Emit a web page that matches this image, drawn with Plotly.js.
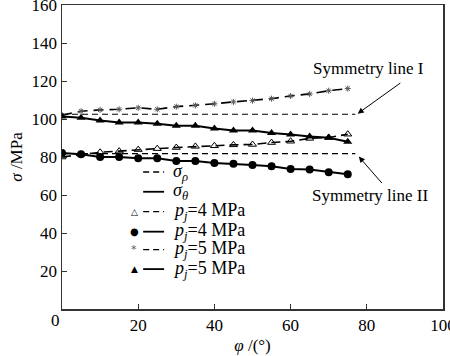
<!DOCTYPE html>
<html>
<head>
<meta charset="utf-8">
<script src="https://cdn.plot.ly/plotly-3.0.1.min.js"></script>
<style>html,body{margin:0;padding:0;background:#fff;}#chart{width:450px;height:356px;}</style>
</head>
<body>
<div id="chart"></div>
<script>
// angle phi (degrees)
var phi = [0, 5, 10, 15, 20, 25, 30, 35, 40, 45, 50, 55, 60, 65, 70, 75];
// sigma_rho, pj = 4 MPa (open triangles, dashed)
var rho4 = [80.0, 81.4, 82.5, 83.1, 83.9, 84.4, 85.0, 85.6, 85.9, 86.4, 86.6, 87.6, 88.3, 89.8, 90.3, 92.0];
// sigma_theta, pj = 4 MPa (filled circles, solid)
var theta4 = [82.1, 81.4, 80.0, 80.0, 79.3, 79.3, 77.9, 77.9, 76.9, 76.5, 75.8, 75.1, 73.7, 73.4, 72.0, 70.9];
// sigma_rho, pj = 5 MPa (asterisks, dashed)
var rho5 = [102.0, 104.1, 104.8, 105.1, 105.9, 105.1, 106.5, 107.2, 108.0, 109.0, 109.7, 110.7, 112.1, 113.2, 114.9, 116.0];
// sigma_theta, pj = 5 MPa (filled triangles, solid)
var theta5 = [101.3, 100.6, 99.2, 98.2, 98.2, 97.5, 96.4, 96.4, 95.0, 94.0, 94.0, 92.6, 91.9, 90.8, 90.1, 88.0];
// symmetry lines
var symX = [0, 77];
var symI = [102.5, 102.5];
var symII = [81.8, 81.8];
var xTicks = [0, 20, 40, 60, 80, 100];
var xTickText = ['', '20', '40', '60', '80', '100'];
var yTicks = [0, 20, 40, 60, 80, 100, 120, 140, 160];
var yTickText = ['', '20', '40', '60', '80', '100', '120', '140', '160'];

var FONT = 'Liberation Serif';

var traces = [
  {x: symX, y: symI, mode: 'lines', line: {color: '#000', width: 1.2, dash: '6px,4px'}, hoverinfo: 'skip'},
  {x: symX, y: symII, mode: 'lines', line: {color: '#000', width: 1.2, dash: '6px,4px'}, hoverinfo: 'skip'},
  {x: phi, y: rho4, mode: 'lines+markers', line: {color: '#000', width: 1.6, dash: '9px,5px'},
   marker: {symbol: 'triangle-up-open', size: 7, color: '#000', line: {width: 1, color: '#000'}}},
  {x: phi, y: theta4, mode: 'lines+markers', line: {color: '#000', width: 2},
   marker: {symbol: 'circle', size: 8, color: '#000'}},
  {x: phi, y: rho5, mode: 'lines+markers', line: {color: '#000', width: 1.6, dash: '10px,6px'},
   marker: {symbol: 'asterisk-open', size: 5, color: '#555', line: {width: 1, color: '#555'}}},
  {x: phi, y: theta5, mode: 'lines+markers', line: {color: '#000', width: 2},
   marker: {symbol: 'triangle-up', size: 8, color: '#000'}}
];

// custom legend (data coordinates for placement)
var legRows = [72.1, 61.7, 51.2, 40.7, 31.2, 21.0];
var legLabels = ['<i>σ</i><sub><i>ρ</i></sub>', '<i>σ</i><sub><i>θ</i></sub>',
  '<i>p</i><sub><i>j</i></sub>=4 MPa', '<i>p</i><sub><i>j</i></sub>=4 MPa',
  '<i>p</i><sub><i>j</i></sub>=5 MPa', '<i>p</i><sub><i>j</i></sub>=5 MPa'];
var legDash = ['6px,4px', 'solid', '6px,4px', 'solid', '6px,4px', 'solid'];
var legGlyph = ['', '', '△', '●', '*', '▲'];
var legGlyphSize = [10, 10, 9, 10, 11, 9];

var shapes = [];
var annotations = [];
for (var i = 0; i < legRows.length; i++) {
  shapes.push({type: 'line', xref: 'x', yref: 'y', x0: 21.3, x1: 26.8, y0: legRows[i], y1: legRows[i],
    line: {color: '#000', width: legDash[i] === 'solid' ? 1.8 : 1.3, dash: legDash[i]}});
  annotations.push({xref: 'x', yref: 'y', x: 28.6, y: legRows[i], xanchor: 'left', yanchor: 'middle',
    text: legLabels[i], showarrow: false, font: {family: FONT, size: 18, color: '#000'}});
  if (legGlyph[i]) {
    annotations.push({xref: 'x', yref: 'y', x: 18.9, y: legRows[i], xanchor: 'center', yanchor: 'middle',
      text: legGlyph[i], showarrow: false, font: {family: 'DejaVu Sans', size: legGlyphSize[i], color: legGlyph[i] === '*' ? '#555' : '#000'}});
  }
}
annotations.push({xref: 'x', yref: 'y', x: 80.5, y: 126.5, text: 'Symmetry line I', showarrow: false,
  font: {family: FONT, size: 17, color: '#000'}});
annotations.push({xref: 'x', yref: 'y', x: 80.8, y: 59.5, text: 'Symmetry line II', showarrow: false,
  font: {family: FONT, size: 17, color: '#000'}});
annotations.push({xref: 'x', yref: 'y', axref: 'x', ayref: 'y', x: 77.6, y: 102.8, ax: 89.2, ay: 119.5,
  text: '', showarrow: true, arrowhead: 2, arrowsize: 1.2, arrowwidth: 1, arrowcolor: '#000'});
annotations.push({xref: 'x', yref: 'y', axref: 'x', ayref: 'y', x: 77.9, y: 80.2, ax: 84.3, ay: 65.5,
  text: '', showarrow: true, arrowhead: 2, arrowsize: 1.2, arrowwidth: 1, arrowcolor: '#000'});
// shared origin label
annotations.push({xref: 'paper', yref: 'paper', x: 0, y: 0, xanchor: 'center', yanchor: 'middle',
  xshift: -7, yshift: -11, text: '0', showarrow: false, font: {family: FONT, size: 17, color: '#000'}});

var layout = {
  width: 450, height: 356,
  margin: {l: 62, r: 7, t: 5, b: 47, pad: 0},
  paper_bgcolor: '#fff', plot_bgcolor: '#fff',
  showlegend: false,
  font: {family: FONT, size: 17, color: '#000'},
  xaxis: {range: [0, 100], tickvals: xTicks, ticktext: xTickText, ticks: 'inside', ticklen: 5,
    tickcolor: '#333', showline: true, mirror: true, linecolor: '#333', linewidth: 1.5,
    ticklabeloverflow: 'allow',
    showgrid: false, zeroline: false, tickfont: {family: FONT, size: 17, color: '#000'},
    title: {text: '<i>φ</i> /(°)', font: {family: FONT, size: 17, color: '#000'}, standoff: 5}},
  yaxis: {range: [0, 160], tickvals: yTicks, ticktext: yTickText, ticks: 'inside', ticklen: 5,
    tickcolor: '#333', showline: true, mirror: true, linecolor: '#333', linewidth: 1.5,
    ticklabeloverflow: 'allow',
    showgrid: false, zeroline: false, tickfont: {family: FONT, size: 17, color: '#000'},
    title: {text: '<i>σ</i> /MPa', font: {family: FONT, size: 17, color: '#000'}, standoff: 4}},
  shapes: shapes,
  annotations: annotations
};

Plotly.newPlot('chart', traces, layout, {displayModeBar: false, staticPlot: true});
</script>
</body>
</html>
